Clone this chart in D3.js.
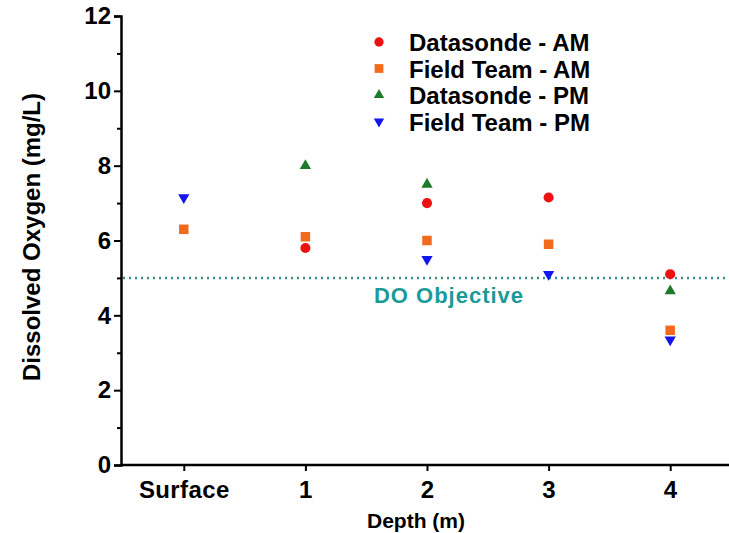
<!DOCTYPE html>
<html><head><meta charset="utf-8">
<script src="https://cdn.jsdelivr.net/npm/d3@7"></script>
<style>body{margin:0;background:#fff}svg{display:block}text{font-family:"Liberation Sans",Arial,sans-serif;font-weight:bold}</style>
</head><body><svg id="c" width="729" height="533"></svg>
<script>
const categories = ["Surface","1","2","3","4"];
const yTicks = [0,2,4,6,8,10,12];
const yMinorTicks = [1,3,5,7,9,11];
const seriesNames = ["Datasonde - AM","Field Team - AM","Datasonde - PM","Field Team - PM"];
const datasondeAM = [null,5.8,7.0,7.15,5.1];
const fieldTeamAM = [6.3,6.1,6.0,5.9,3.6];
const datasondePM = [null,8.0,7.5,null,4.65];
const fieldTeamPM = [7.15,null,5.5,5.1,3.35];
const doObjective = 5;

const series = [
  {name:seriesNames[0], values:datasondeAM, color:"#ee1111", shape:d3.symbolCircle, size:80, rot:0},
  {name:seriesNames[1], values:fieldTeamAM, color:"#f26a1b", shape:d3.symbolSquare, size:90, rot:0},
  {name:seriesNames[2], values:datasondePM, color:"#1d7a2a", shape:d3.symbolTriangle, size:55, rot:0},
  {name:seriesNames[3], values:fieldTeamPM, color:"#1414ee", shape:d3.symbolTriangle, size:55, rot:180}
];

const svg = d3.select("#c");
const x = d3.scaleLinear().domain([-0.5,4.5]).range([123,731]);
const y = d3.scaleLinear().domain([0,12]).range([465,16]);
const axisX = 121;
const FS = 24;

// y axis
const gy = svg.append("g").attr("transform",`translate(${axisX},0)`);
gy.call(d3.axisLeft(y).tickValues(yTicks).tickSize(7).tickPadding(3).tickFormat(d3.format("d")));
gy.append("g").call(d3.axisLeft(y).tickValues(yMinorTicks).tickSize(4).tickFormat(""))
  .select(".domain").remove();
gy.selectAll(".domain").attr("stroke","#000").attr("stroke-width",2.5);
gy.selectAll(".tick line").attr("stroke","#000").attr("stroke-width",2);
gy.selectAll(".tick text").attr("font-size",FS).attr("fill","#000")
  .style("font-family","Liberation Sans, Arial").style("font-weight","bold");

// x axis
const gx = svg.append("g").attr("transform",`translate(0,${y(0)})`);
gx.call(d3.axisBottom(x).tickValues(d3.range(categories.length)).tickSize(6).tickPadding(10).tickFormat(i=>categories[i]));
gx.select(".domain").attr("d",`M${axisX},0H729`).attr("stroke","#000").attr("stroke-width",2.5);
gx.selectAll(".tick line").attr("stroke","#000").attr("stroke-width",2);
gx.selectAll(".tick text").attr("font-size",FS).attr("fill","#000")
  .style("font-family","Liberation Sans, Arial").style("font-weight","bold").style("letter-spacing","0.4px");

// DO objective line
svg.append("line").attr("x1",axisX+2).attr("x2",729).attr("y1",y(doObjective)).attr("y2",y(doObjective))
  .attr("stroke","#3a8f86").attr("stroke-width",2.5).attr("stroke-dasharray","2,4");
svg.append("text").attr("x",449).attr("y",y(doObjective)+25).attr("text-anchor","middle")
  .attr("font-size",22).attr("fill","#1b9a9a").style("letter-spacing","1px").text("DO Objective");

// points
series.forEach(s=>{
  const sym = d3.symbol().type(s.shape).size(s.size);
  svg.append("g").selectAll("path").data(s.values.map((v,i)=>({v,i})).filter(d=>d.v!=null))
    .join("path").attr("d",sym)
    .attr("transform",d=>`translate(${x(d.i)},${y(d.v)}) rotate(${s.rot})`)
    .attr("fill",s.color);
});

// legend
const lg = svg.append("g");
series.forEach((s,k)=>{
  const yy = 42 + k*26.5;
  lg.append("path").attr("d",d3.symbol().type(s.shape).size(s.size*0.85)())
    .attr("transform",`translate(379,${yy}) rotate(${s.rot})`).attr("fill",s.color);
  lg.append("text").attr("x",409).attr("y",yy+9).attr("font-size",FS).attr("fill","#000").text(s.name);
});

// axis titles
svg.append("text").attr("transform","translate(40,237) rotate(-90)").attr("text-anchor","middle")
  .attr("font-size",FS).attr("fill","#000").text("Dissolved Oxygen (mg/L)");
svg.append("text").attr("x",416).attr("y",528).attr("text-anchor","middle")
  .attr("font-size",21).attr("fill","#000").text("Depth (m)");
</script></body></html>
